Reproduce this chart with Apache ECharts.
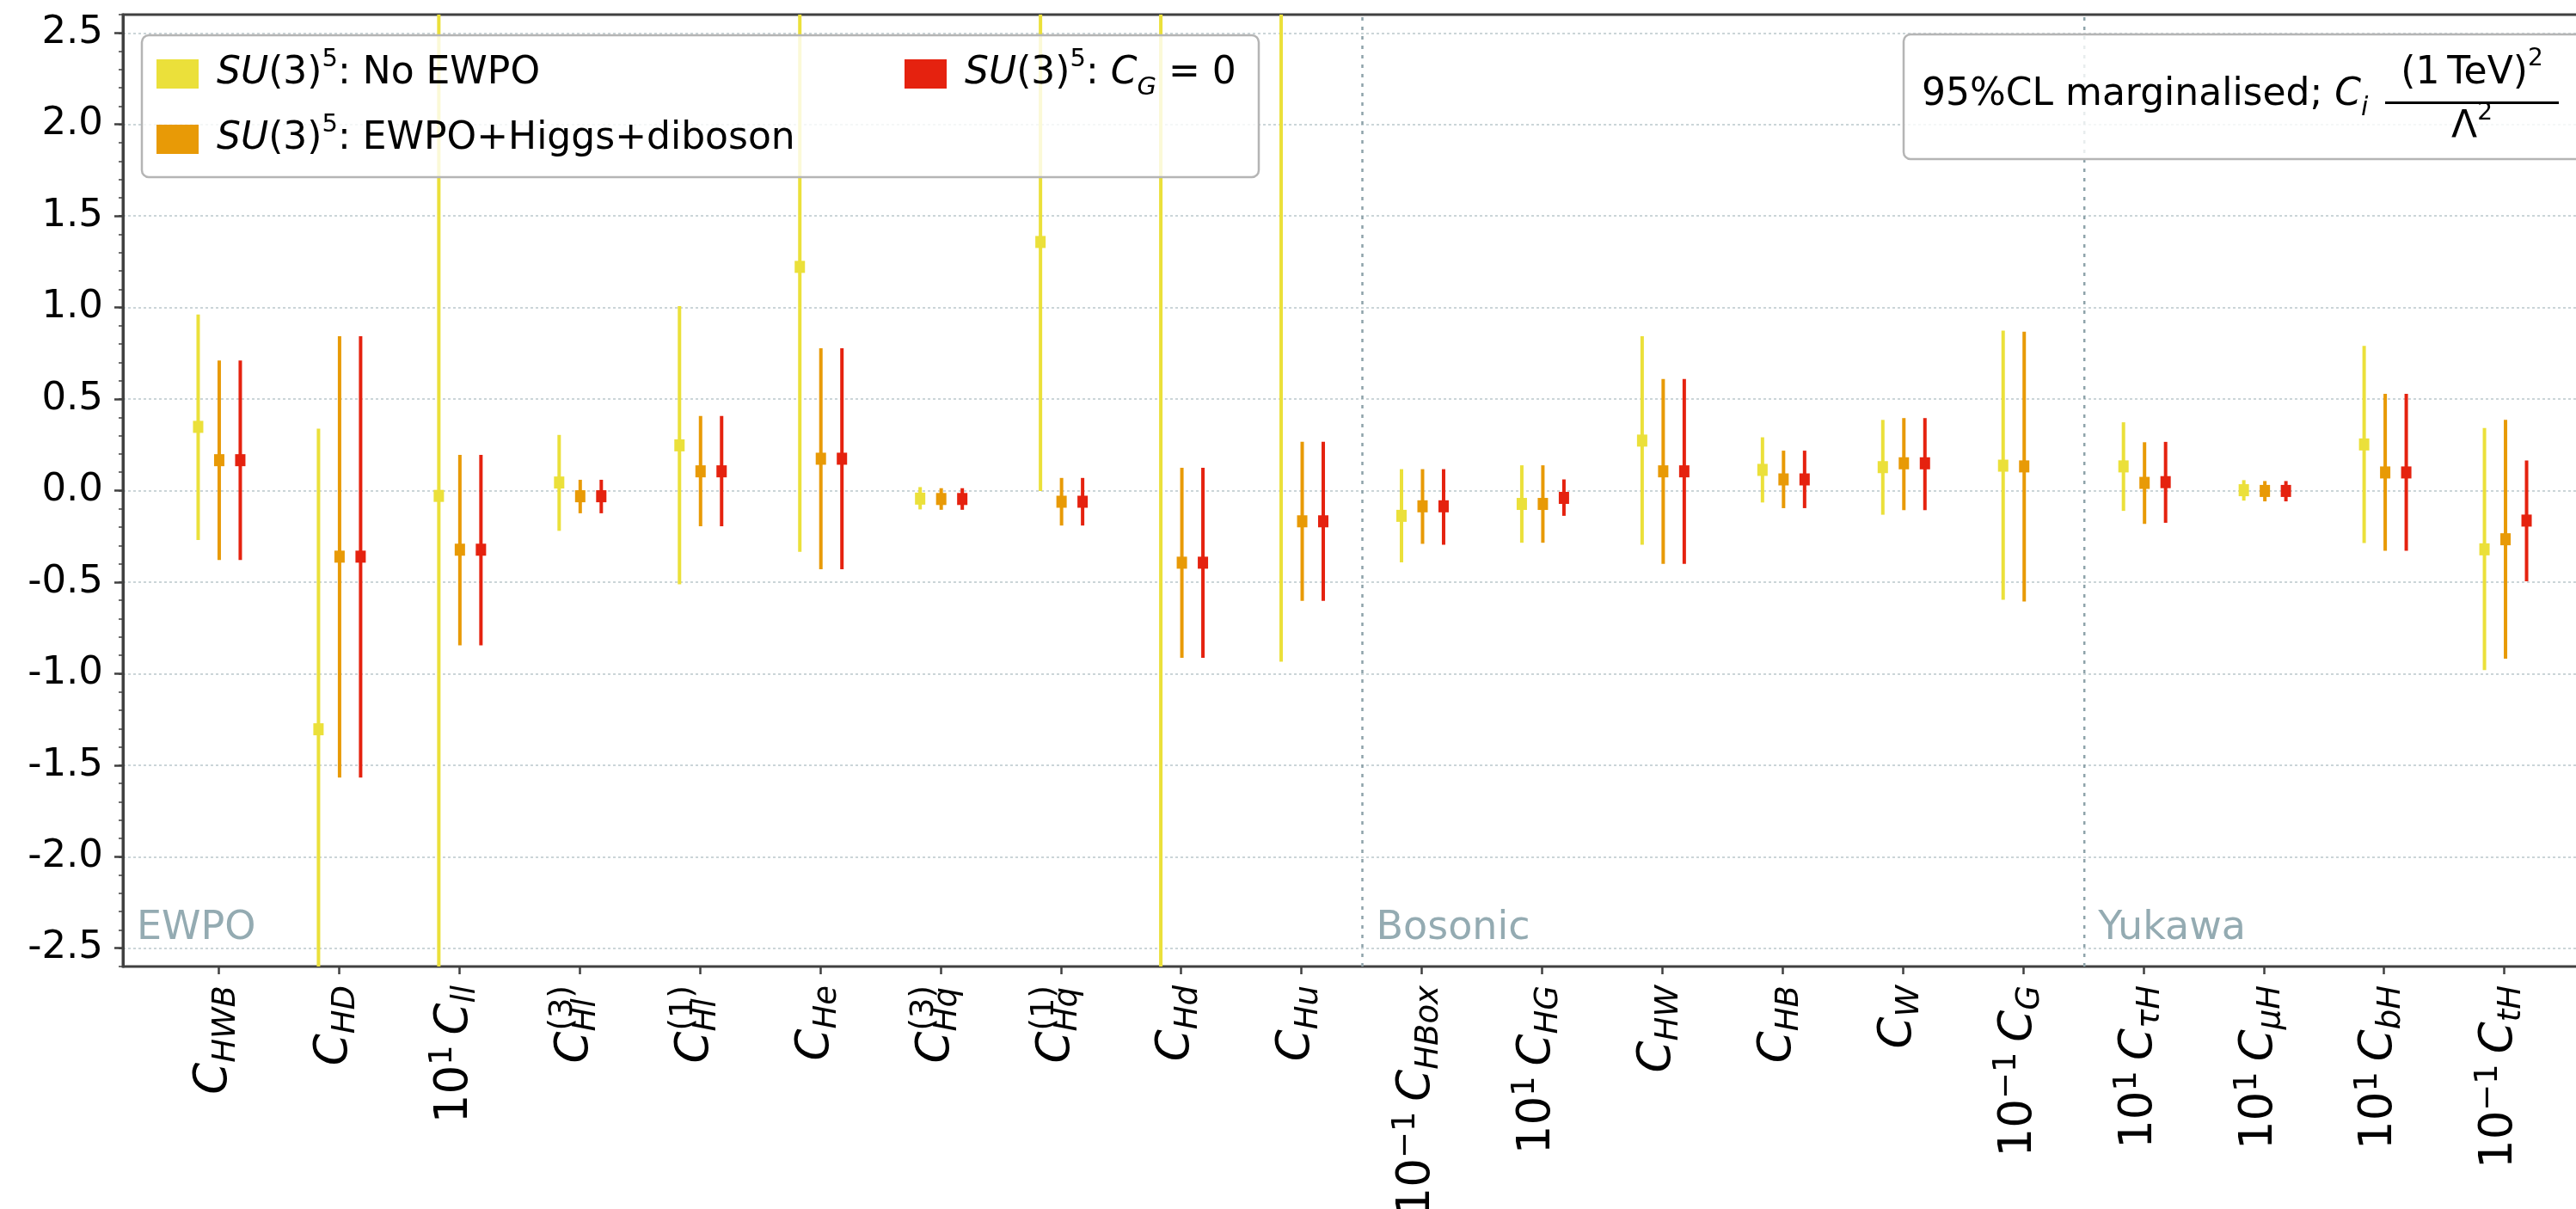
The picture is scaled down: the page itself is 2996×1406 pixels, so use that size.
<!DOCTYPE html>
<html>
<head>
<meta charset="utf-8">
<script src="https://cdn.jsdelivr.net/npm/echarts@6/dist/echarts.min.js"></script>
<style>
  html, body { margin: 0; padding: 0; background: #ffffff; }
  #chart { width: 2996px; height: 1406px; }
</style>
</head>
<body>
<div id="chart"></div>
<script>
// Wilson coefficients (TeX-like notation: optional power-of-ten factor, subscript, superscript)
const categories = [
  'C_{HWB}', 'C_{HD}', '10^{1} C_{ll}', 'C_{Hl}^{(3)}', 'C_{Hl}^{(1)}', 'C_{He}',
  'C_{Hq}^{(3)}', 'C_{Hq}^{(1)}', 'C_{Hd}', 'C_{Hu}', '10^{−1} C_{HBox}', '10^{1} C_{HG}',
  'C_{HW}', 'C_{HB}', 'C_{W}', '10^{−1} C_{G}', '10^{1} C_{τH}', '10^{1} C_{μH}',
  '10^{1} C_{bH}', '10^{−1} C_{tH}'
];

const seriesNames = ['SU(3)^5: No EWPO', 'SU(3)^5: EWPO+Higgs+diboson', 'SU(3)^5: C_G = 0'];
const legendLabels = [
  '{it|SU}(3){sup|5}: No EWPO',
  '{it|SU}(3){sup|5}: EWPO+Higgs+diboson',
  '{it|SU}(3){sup|5}: {it|C}{sub|G} = 0'
];

// 95% CL intervals: best-fit value, lower and upper bound
const noEwpoCenter = [0.348, -1.304, -0.029, 0.044, 0.247, 1.222, -0.044, 1.358, 2.9, 3.0,
                      -0.138, -0.073, 0.273, 0.113, 0.128, 0.136, 0.132, 0.002, 0.252, -0.321];
const noEwpoLow    = [-0.270, -3.0, -3.0, -0.220, -0.512, -0.335, -0.103, -0.002, -3.0, -0.935,
                      -0.392, -0.285, -0.296, -0.065, -0.132, -0.597, -0.111, -0.055, -0.287, -0.981];
const noEwpoHigh   = [0.962, 0.338, 3.0, 0.304, 1.008, 3.0, 0.019, 3.0, 3.0, 3.2,
                      0.117, 0.138, 0.843, 0.291, 0.386, 0.874, 0.373, 0.057, 0.790, 0.342];

const fullCenter = [0.166, -0.361, -0.323, -0.031, 0.105, 0.174, -0.046, -0.061, -0.394, -0.168,
                    -0.086, -0.073, 0.105, 0.061, 0.149, 0.132, 0.042, -0.002, 0.099, -0.266];
const fullLow    = [-0.379, -1.568, -0.845, -0.124, -0.195, -0.430, -0.105, -0.191, -0.914, -0.602,
                    -0.291, -0.285, -0.400, -0.096, -0.107, -0.606, -0.182, -0.059, -0.329, -0.918];
const fullHigh   = [0.711, 0.843, 0.195, 0.059, 0.407, 0.778, 0.013, 0.069, 0.124, 0.266,
                    0.117, 0.138, 0.610, 0.218, 0.396, 0.868, 0.264, 0.052, 0.528, 0.386];

const cg0Center = [0.166, -0.361, -0.323, -0.031, 0.105, 0.174, -0.046, -0.061, -0.394, -0.168,
                   -0.086, -0.040, 0.105, 0.061, 0.149, null, 0.046, -0.002, 0.099, -0.164];
const cg0Low    = [-0.379, -1.568, -0.845, -0.124, -0.195, -0.430, -0.105, -0.191, -0.914, -0.602,
                   -0.296, -0.138, -0.400, -0.096, -0.107, null, -0.176, -0.059, -0.329, -0.495];
const cg0High   = [0.711, 0.843, 0.195, 0.059, 0.407, 0.778, 0.013, 0.069, 0.124, 0.266,
                   0.117, 0.061, 0.610, 0.218, 0.396, null, 0.266, 0.052, 0.528, 0.164];

// Operator groups
const sectionNames = ['EWPO', 'Bosonic', 'Yukawa'];
const sectionBreaks = [9.5, 15.5];

const Y_MIN = -2.6, Y_MAX = 2.6;
const X_MIN = -0.8, X_MAX = 19.8;
const FONT = '"DejaVu Sans", "Noto Sans", sans-serif';
const AXIS_COLOR = '#404040';

function buildBars(center, low, high) {
  const out = [];
  center.forEach(function (c, i) {
    if (c != null) out.push([i, c, low[i], high[i]]);
  });
  return out;
}

// category label -> rich text (italic C, subscripts/superscripts)
function labelRich(s) {
  const m = s.match(/^(?:10\^\{([^}]*)\} )?C_\{([^}]*)\}(?:\^\{([^}]*)\})?$/);
  if (!m) return s;
  let out = '';
  if (m[1]) out += '{n|10}{sp|' + m[1] + '}{sp| }';
  out += '{c|C}';
  if (m[3]) out += '{sbz|' + m[2] + '}{sp|' + m[3] + '}';
  else out += '{sb|' + m[2] + '}';
  return out;
}

function renderBar(shift, color) {
  return function (params, api) {
    const i = api.value(0), c = api.value(1), lo = api.value(2), hi = api.value(3);
    const dx = api.size([1, 0])[0] * shift;
    const clamp = function (v) { return Math.min(Y_MAX, Math.max(Y_MIN, v)); };
    const a = api.coord([i, clamp(lo)]);
    const b = api.coord([i, clamp(hi)]);
    const children = [{
      type: 'line',
      shape: { x1: a[0] + dx, y1: a[1], x2: b[0] + dx, y2: b[1] },
      style: { stroke: color, lineWidth: 4 }
    }];
    if (c >= Y_MIN && c <= Y_MAX) {
      const p = api.coord([i, c]);
      children.push({
        type: 'rect',
        shape: { x: p[0] + dx - 6, y: p[1] - 7, width: 12, height: 14 },
        style: { fill: color }
      });
    }
    return { type: 'group', children: children };
  };
}

const barSets = [
  { name: seriesNames[0], color: '#ebe03a', shift: -0.175, data: buildBars(noEwpoCenter, noEwpoLow, noEwpoHigh) },
  { name: seriesNames[1], color: '#e89a06', shift: 0, data: buildBars(fullCenter, fullLow, fullHigh) },
  { name: seriesNames[2], color: '#e5220f', shift: 0.175, data: buildBars(cg0Center, cg0Low, cg0High) }
];

const barSeries = barSets.map(function (s) {
  return {
    type: 'custom',
    name: s.name,
    xAxisIndex: 0,
    yAxisIndex: 0,
    clip: true,
    z: 3,
    itemStyle: { color: s.color },
    encode: { x: 0, y: [1, 2, 3] },
    data: s.data,
    renderItem: renderBar(s.shift, s.color)
  };
});

// dashed separators between operator groups
const separatorSeries = {
  type: 'custom',
  xAxisIndex: 0,
  yAxisIndex: 0,
  silent: true,
  z: 2,
  encode: { x: 0, y: 1 },
  data: sectionBreaks.map(function (b) { return [b, 0]; }),
  renderItem: function (params, api) {
    const x = api.value(0);
    const a = api.coord([x, Y_MIN]);
    const b = api.coord([x, Y_MAX]);
    return {
      type: 'line',
      shape: { x1: a[0], y1: a[1], x2: b[0], y2: b[1] },
      style: { stroke: '#8ea3aa', lineWidth: 2.5, lineDash: [4, 7] }
    };
  }
};

// group names at the lower left of each section
const sectionStarts = [X_MIN].concat(sectionBreaks);
const sectionSeries = {
  type: 'custom',
  xAxisIndex: 0,
  yAxisIndex: 0,
  silent: true,
  z: 2,
  encode: { x: 0, y: 1 },
  data: sectionStarts.map(function (x) { return [x, Y_MIN]; }),
  renderItem: function (params, api) {
    const p = api.coord([api.value(0), Y_MIN]);
    return {
      type: 'text',
      x: p[0] + 16,
      y: p[1] - 44,
      style: {
        text: sectionNames[params.dataIndex],
        fontFamily: FONT,
        fontSize: 46,
        fill: '#94abb2',
        align: 'left',
        verticalAlign: 'middle'
      }
    };
  }
};

const legendCommon = {
  orient: 'vertical',
  icon: 'rect',
  itemWidth: 49,
  itemHeight: 34,
  itemGap: 14,
  padding: 0,
  z: 6,
  selectedMode: false,
  formatter: function (name) { return legendLabels[seriesNames.indexOf(name)]; },
  textStyle: {
    fontFamily: FONT,
    fontSize: 44,
    lineHeight: 62,
    color: '#000',
    padding: [0, 0, 0, 16],
    rich: {
      it: { fontFamily: FONT, fontSize: 44, lineHeight: 62, fontStyle: 'italic', color: '#000' },
      sup: { fontFamily: FONT, fontSize: 29, lineHeight: 30, verticalAlign: 'top', color: '#000' },
      sub: { fontFamily: FONT, fontSize: 29, lineHeight: 37, verticalAlign: 'bottom', fontStyle: 'italic', color: '#000' }
    }
  }
};

const boxStyle = { fill: 'rgba(255,255,255,0.8)', stroke: '#b5b5b5', lineWidth: 2.5 };
const noteRich = {
  c: { fontFamily: FONT, fontSize: 44, lineHeight: 62, fontStyle: 'italic', color: '#000' },
  s: { fontFamily: FONT, fontSize: 30, lineHeight: 36, verticalAlign: 'bottom', fontStyle: 'italic', color: '#000' },
  p: { fontFamily: FONT, fontSize: 28, lineHeight: 39, verticalAlign: 'top', color: '#000' }
};

const labelToken = function (extra) {
  return Object.assign({ fontFamily: FONT, color: '#000', align: 'left' }, extra);
};

const option = {
  animation: false,
  backgroundColor: '#ffffff',
  grid: [
    { left: 143, right: -30, top: 17, bottom: 282, show: true, borderColor: AXIS_COLOR, borderWidth: 3,
      backgroundColor: 'transparent', containLabel: false, outerBoundsMode: 'none' },
    { left: 184.5, right: 13.5, top: 17, bottom: 282, containLabel: false, outerBoundsMode: 'none' }
  ],
  xAxis: [
    { type: 'value', gridIndex: 0, min: X_MIN, max: X_MAX, show: false },
    {
      type: 'category', gridIndex: 1, data: categories, boundaryGap: true, position: 'bottom',
      axisLine: { show: false, onZero: false },
      axisTick: { show: true, alignWithLabel: true, length: 9, lineStyle: { color: AXIS_COLOR, width: 2.5 } },
      splitLine: { show: false },
      axisLabel: {
        interval: 0, rotate: 90, margin: 22, color: '#000',
        fontFamily: FONT, fontSize: 53, lineHeight: 64,
        padding: [0, 0, 10, 0],
        formatter: labelRich,
        rich: {
          n: labelToken({ fontSize: 53, lineHeight: 64 }),
          c: labelToken({ fontSize: 53, lineHeight: 64, fontStyle: 'italic' }),
          sb: labelToken({ fontSize: 37, lineHeight: 34, verticalAlign: 'bottom', fontStyle: 'italic' }),
          sbz: labelToken({ fontSize: 37, lineHeight: 30, verticalAlign: 'bottom', fontStyle: 'italic', width: 1 }),
          sp: labelToken({ fontSize: 37, lineHeight: 30, verticalAlign: 'top' })
        }
      }
    }
  ],
  yAxis: [
    {
      type: 'value', gridIndex: 0, position: 'left', min: Y_MIN, max: Y_MAX, splitNumber: 10,
      axisLine: { show: true, onZero: false, lineStyle: { color: AXIS_COLOR, width: 3 } },
      axisTick: { show: true, length: 10, lineStyle: { color: AXIS_COLOR, width: 2.5 } },
      axisLabel: {
        show: true, color: '#000', fontFamily: FONT, fontSize: 45, margin: 23,
        showMinLabel: false, showMaxLabel: false,
        formatter: function (v) { return v.toFixed(1); }
      },
      splitLine: { show: true, showMinLine: false, showMaxLine: false,
                   lineStyle: { color: '#cbd5d8', width: 2, type: [3, 3] } }
    },
    {
      type: 'value', gridIndex: 0, position: 'left', min: Y_MIN, max: Y_MAX, interval: 0.1,
      axisLine: { show: false, onZero: false },
      axisTick: { show: true, length: 5, lineStyle: { color: AXIS_COLOR, width: 1.5 } },
      axisLabel: { show: false },
      splitLine: { show: false }
    },
    { type: 'value', gridIndex: 1, min: Y_MIN, max: Y_MAX, show: false,
      axisLine: { onZero: false } }
  ],
  legend: [
    Object.assign({}, legendCommon, { data: [seriesNames[0], seriesNames[1]], left: 182, top: 55 }),
    Object.assign({}, legendCommon, { data: [seriesNames[2]], left: 1052, top: 55 })
  ],
  graphic: [
    { type: 'rect', z: 5, shape: { x: 165, y: 41, width: 1299, height: 165, r: 8 }, style: boxStyle },
    { type: 'rect', z: 10, shape: { x: 2214, y: 40, width: 820, height: 145, r: 8 }, style: boxStyle },
    { type: 'text', z: 11, x: 2235, y: 110.5,
      style: { text: '95%CL marginalised; {c|C}{s|i}', fontFamily: FONT, fontSize: 44, lineHeight: 62,
               fill: '#000', align: 'left', verticalAlign: 'middle', rich: noteRich } },
    { type: 'text', z: 11, x: 2875, y: 86,
      style: { text: '(1\u2009TeV){p|2}', fontFamily: FONT, fontSize: 44, lineHeight: 62,
               fill: '#000', align: 'center', verticalAlign: 'middle', rich: noteRich } },
    { type: 'line', z: 11, shape: { x1: 2774, y1: 119.5, x2: 2976, y2: 119.5 }, style: { stroke: '#000', lineWidth: 3 } },
    { type: 'text', z: 11, x: 2875, y: 149,
      style: { text: 'Λ{p|2}', fontFamily: FONT, fontSize: 44, lineHeight: 62,
               fill: '#000', align: 'center', verticalAlign: 'middle', rich: noteRich } }
  ],
  series: [separatorSeries, sectionSeries].concat(barSeries)
};

const chart = echarts.init(document.getElementById('chart'), null, { renderer: 'canvas' });
chart.setOption(option);
</script>
</body>
</html>
